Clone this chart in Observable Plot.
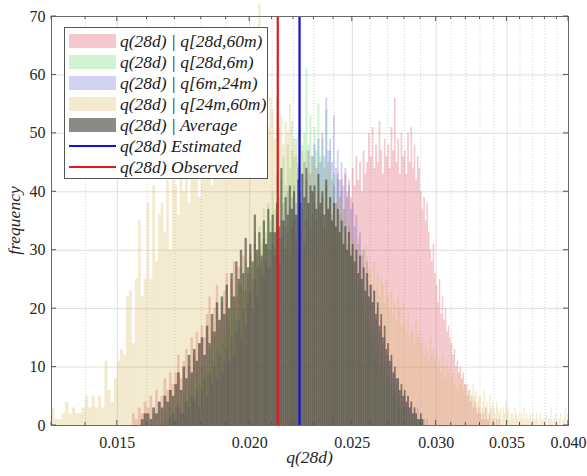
<!DOCTYPE html>
<html><head><meta charset="utf-8">
<script src="https://cdn.jsdelivr.net/npm/d3@7"></script>
<script src="https://cdn.jsdelivr.net/npm/@observablehq/plot@0.6"></script>
<style>
html,body{margin:0;padding:0;background:#fff;}
#chart{width:587px;height:476px;}
#chart svg text{font-family:"Liberation Serif","Tinos","DejaVu Serif","Noto Serif",serif !important;}
</style></head><body><div id="chart"></div>
<script>
// ---- data (bin width 0.0001, counts) ----
const binWidth = 0.0001;

const pinkName = "q(28d) | q[28d,60m)";
const pinkStart = 0.0155;
const pinkCounts = [
 2,1,3,2,4,
 3,5,2,6,4,5,8,6,9,7,
 9,12,8,11,13,10,15,12,16,14,
 17,15,19,22,16,20,24,18,21,23,
 26,20,25,28,22,27,24,29,23,26,
 29,25,31,27,30,26,32,28,30,27,
 31,29,34,28,32,35,30,33,29,34,
 35,32,36,33,37,31,35,38,34,36,
 38,35,40,36,39,34,41,37,39,36,
 41,38,43,39,42,37,44,40,42,39,
 44,41,46,42,45,40,47,43,45,50,
 46,51,44,48,45,52,47,43,49,46,
 48,44,51,47,56,45,49,43,50,46,
 47,43,50,45,51,44,48,42,46,44,
 40,37,39,35,38,33,30,28,31,26,
 24,21,25,19,22,18,20,16,17,15,
 14,12,13,10,11,9,10,8,9,7,
 7,5,6,4,5,3,4,3,2,3,
 2,1,2,1,3,1,1,2,0,1,1,0,1,0,1
];

const greenName = "q(28d) | q[28d,6m)";
const greenStart = 0.0165;
const greenCounts = [
 1,2,1,3,2,
 3,4,2,5,4,6,8,5,9,7,
 10,12,9,13,11,15,13,17,14,16,
 19,17,22,20,18,24,27,23,28,25,
 30,27,33,29,34,31,37,33,38,35,
 40,37,43,39,42,46,41,48,44,52,
 46,49,45,51,47,50,61,48,53,46,
 51,47,55,46,49,44,54,45,47,42,
 43,38,42,36,40,35,37,31,34,30,
 29,26,28,23,25,21,23,19,20,17,
 17,14,16,12,13,10,12,9,10,8,
 8,6,7,5,6,4,5,3,4,3,
 3,2,3,1,2,1,2,1,0,1,1,1
];

const blueName = "q(28d) | q[6m,24m)";
const blueStart = 0.0168;
const blueCounts = [
 1,2,
 1,3,2,2,4,3,5,4,6,3,
 6,8,5,9,7,10,8,12,9,11,
 13,11,15,12,16,18,15,20,17,21,
 23,20,25,22,27,28,25,31,27,30,
 33,30,36,32,35,38,34,40,37,39,
 41,38,44,40,43,45,42,47,43,46,
 48,44,49,45,50,46,56,47,49,45,
 53,44,47,42,45,41,43,39,41,37,
 38,34,36,31,33,29,30,26,28,24,
 24,21,23,18,20,16,17,14,15,12,
 12,10,11,8,9,7,8,5,6,5,
 5,4,5,3,4,2,3,2,3,1,
 2,1,1,0,1
];

const tanName = "q(28d) | q[24m,60m)";
const tanStart = 0.0130;
const tanCounts = [
 3,1,1,2,4,2,3,2,2,3,
 5,3,5,3,5,3,11,6,4,8,
 11,13,12,22,23,14,25,35,22,25,
 38,25,41,28,36,38,33,42,30,44,
 41,36,46,40,44,38,47,42,45,39,
 48,43,45,50,41,47,44,49,46,52,
 47,53,49,45,55,50,48,54,51,46,
 56,52,58,50,72,55,53,57,51,56,
 54,49,56,51,53,48,52,50,55,47,
 49,46,50,44,48,45,47,43,46,44,
 43,40,45,41,38,42,39,44,40,37,
 38,35,39,34,37,33,36,38,32,35,
 31,33,29,32,28,30,27,31,29,26,
 27,24,28,23,26,22,25,24,21,25,
 22,20,23,19,21,18,22,20,17,21,
 18,16,19,15,17,16,14,18,15,16,
 14,15,12,14,13,11,15,12,13,11,
 12,10,11,9,12,10,8,11,9,10,
 8,9,7,8,6,9,7,8,6,7,
 6,7,5,6,4,7,5,6,4,5,
 5,3,4,6,3,4,2,5,3,4,
 3,2,4,3,2,3,1,3,2,4,
 2,3,1,2,2,1,3,2,1,2,
 1,2,1,3,1,2,1,1,2,1,
 2,1,1,2,1,0,2,1,1,0,
 1,2,0,1,1,3,1,0,1,2,
 1,0,1,2,0,1,1,3,0,2
];

const avgName = "q(28d) | Average";
const avgStart = 0.0158;
const avgCounts = [
 1,2,
 2,1,3,2,4,3,5,4,6,5,
 7,9,6,10,8,12,9,13,11,14,
 15,12,17,14,19,16,21,18,22,19,
 24,20,26,22,28,25,30,26,32,27,
 31,28,36,30,33,29,35,31,37,33,
 36,33,38,34,44,35,39,36,41,37,
 40,36,42,38,43,39,44,38,41,40,
 41,37,43,38,40,36,42,37,39,35,
 38,34,37,33,35,31,34,30,33,29,
 31,28,30,26,29,25,27,23,26,22,
 24,21,23,19,21,17,19,15,17,13,
 14,11,12,9,10,8,8,6,7,5,
 6,4,5,3,4,2,3,2,1,1,2,1
];

const estimatedName = "q(28d) Estimated";
const estimatedValue = 0.02229;
const observedName = "q(28d) Observed";
const observedValue = 0.02126;

const xTicks = [0.015, 0.020, 0.025, 0.030, 0.035, 0.040];
const xMinor = [0.013, 0.014, 0.016, 0.017, 0.018, 0.019, 0.021, 0.022, 0.023, 0.024,
  0.026, 0.027, 0.028, 0.029, 0.031, 0.032, 0.033, 0.034, 0.036, 0.037, 0.038, 0.039];
const yTicks = [0, 10, 20, 30, 40, 50, 60, 70];
const xLabel = "q(28d)";
const yLabel = "frequency";

// ---- styles ----
const serif = "Liberation Serif, Tinos, DejaVu Serif, Noto Serif, serif";
const styles = {
  [pinkName]:  {fill: "#e06070", op: 0.35},
  [greenName]: {fill: "#40d050", op: 0.25},
  [blueName]:  {fill: "#3030d0", op: 0.22},
  [tanName]:   {fill: "#d8b860", op: 0.30},
  [avgName]:   {fill: "#303028", op: 0.56}
};
const redC = "#e8161b", blueC = "#1010e0";

function bins(name, start, counts) {
  const s = Math.round(start / binWidth);
  return counts.map((c, i) => ({series: name, x1: (s + i) / 10000, x2: (s + i + 1) / 10000, y: c}));
}
const seriesList = [
  bins(pinkName, pinkStart, pinkCounts),
  bins(greenName, greenStart, greenCounts),
  bins(blueName, blueStart, blueCounts),
  bins(tanName, tanStart, tanCounts),
  bins(avgName, avgStart, avgCounts)
];

const histMarks = seriesList.map(data => {
  const st = styles[data[0].series];
  return Plot.rect(data, {x1: "x1", x2: "x2", y1: d => 0, y2: "y", fill: st.fill, fillOpacity: st.op});
});

const plot = Plot.plot({
  width: 587, height: 476,
  marginLeft: 51, marginRight: 19, marginTop: 16, marginBottom: 51,
  style: {fontFamily: serif, fontSize: "16px", color: "#262626", background: "#fff"},
  x: {type: "log", domain: [0.013, 0.040], ticks: xTicks, tickFormat: d3.format(".3f"), tickSize: 0, tickPadding: 11, label: null},
  y: {domain: [0, 70], ticks: yTicks, tickSize: 0, tickPadding: 6, label: null},
  marks: [
    Plot.ruleX(xMinor, {stroke: "#c4c4c4", strokeDasharray: "1,2", strokeWidth: 0.8}),
    Plot.ruleX(xTicks, {stroke: "#dedede"}),
    Plot.ruleY(yTicks.slice(1, -1), {stroke: "#dedede"}),
    ...histMarks,
    Plot.ruleX([observedValue], {stroke: redC, strokeWidth: 2.2}),
    Plot.ruleX([estimatedValue], {stroke: blueC, strokeWidth: 2.2}),
    Plot.frame({stroke: "#6a6a6a"})
  ]
});
document.getElementById("chart").appendChild(plot);

// ---- inward ticks, labels, legend ----
const sx = plot.scale("x"), sy = plot.scale("y");
const svg = d3.select(plot);
const x0 = sx.apply(0.013), x1e = sx.apply(0.040), yb = sy.apply(0), yt = sy.apply(70);
const tg = svg.append("g").attr("stroke", "#555").attr("stroke-width", 1);
xMinor.forEach(v => {
  const x = sx.apply(v);
  tg.append("line").attr("x1", x).attr("x2", x).attr("y1", yb).attr("y2", yb - 3);
  tg.append("line").attr("x1", x).attr("x2", x).attr("y1", yt).attr("y2", yt + 3);
});
xTicks.forEach(v => {
  const x = sx.apply(v);
  tg.append("line").attr("x1", x).attr("x2", x).attr("y1", yb).attr("y2", yb - 5);
  tg.append("line").attr("x1", x).attr("x2", x).attr("y1", yt).attr("y2", yt + 5);
});
yTicks.forEach(v => {
  const y = sy.apply(v);
  tg.append("line").attr("x1", x0).attr("x2", x0 + 5).attr("y1", y).attr("y2", y);
  tg.append("line").attr("x1", x1e).attr("x2", x1e - 5).attr("y1", y).attr("y2", y);
});

svg.append("text").attr("x", (x0 + x1e) / 2).attr("y", 463).attr("text-anchor", "middle")
  .attr("font-family", serif).attr("font-style", "italic").attr("font-size", 17.5).attr("fill", "#262626").text(xLabel);
svg.append("text").attr("transform", `translate(20,${(yb + yt) / 2}) rotate(-90)`).attr("text-anchor", "middle")
  .attr("font-family", serif).attr("font-style", "italic").attr("font-size", 17.5).attr("fill", "#262626").text(yLabel);

const leg = svg.append("g").attr("text-anchor", "start");
leg.append("rect").attr("x", 64.5).attr("y", 27.5).attr("width", 203).attr("height", 151)
  .attr("fill", "#fff").attr("stroke", "#555").attr("stroke-width", 1);
const legItems = [pinkName, greenName, blueName, tanName, avgName, estimatedName, observedName];
legItems.forEach((name, i) => {
  const cy = 41 + i * 21;
  if (styles[name]) {
    leg.append("rect").attr("x", 69).attr("y", cy - 7).attr("width", 47).attr("height", 14)
      .attr("fill", styles[name].fill).attr("fill-opacity", styles[name].op);
  } else {
    leg.append("line").attr("x1", 69).attr("x2", 116).attr("y1", cy).attr("y2", cy)
      .attr("stroke", name === estimatedName ? blueC : redC).attr("stroke-width", 2.2);
  }
  leg.append("text").attr("x", 120).attr("y", cy + 6).attr("text-anchor", "start")
    .attr("font-family", serif).attr("font-style", "italic")
    .attr("font-size", 17.5).attr("fill", "#1a1a1a").text(name);
});
</script></body></html>
